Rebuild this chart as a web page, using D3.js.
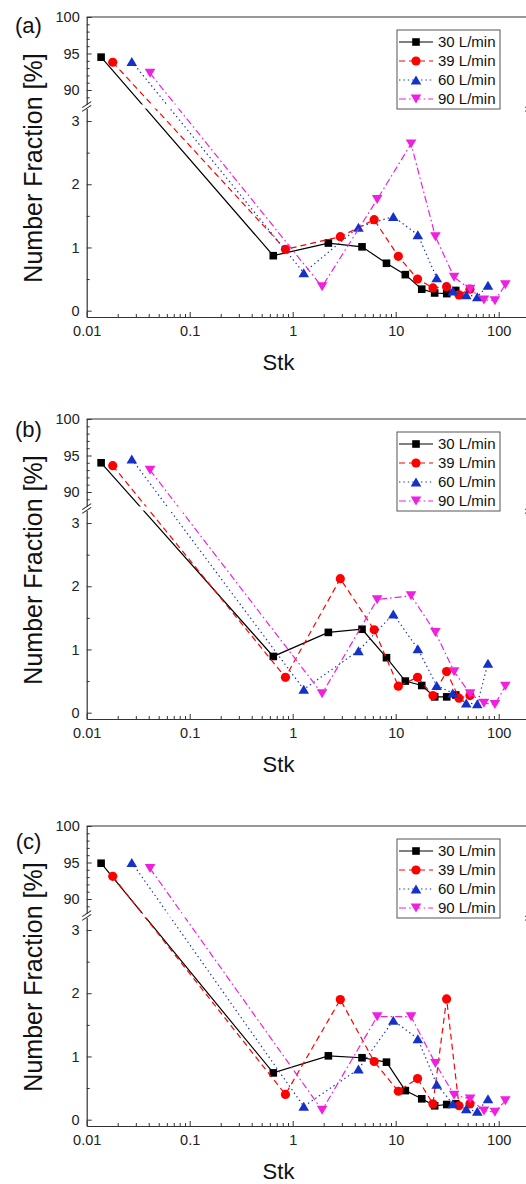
<!DOCTYPE html>
<html>
<head>
<meta charset="utf-8">
<script src="https://cdn.jsdelivr.net/npm/d3@7"></script>
<style>
  html, body { margin: 0; padding: 0; background: #fff; }
  svg { display: block; font-family: "Liberation Sans", Arial, sans-serif; }
</style>
</head>
<body>
<div id="chart"></div>
<script>
// Stk values for each flow rate (same in all three panels)
var stk30 = [0.0138, 0.648, 2.22, 4.71, 8.14, 12.4, 17.9, 23.9, 31.3, 38.3];
var stk39 = [0.0179, 0.85, 2.90, 6.18, 10.6, 16.3, 23.0, 31.2, 41.2, 52.6];
var stk60 = [0.0274, 1.28, 4.35, 9.48, 16.4, 25.0, 35.8, 48.4, 62.0, 78.7];
var stk90 = [0.0412, 1.93, 6.61, 14.1, 24.3, 36.9, 52.8, 71.9, 91.9, 116];

// Number fraction [%], panel (a)
var a30 = [94.5, 0.87, 1.07, 1.01, 0.75, 0.57, 0.34, 0.28, 0.27, 0.32];
var a39 = [93.8, 0.97, 1.17, 1.44, 0.86, 0.50, 0.36, 0.38, 0.25, 0.34];
var a60 = [93.9, 0.60, 1.32, 1.49, 1.20, 0.52, 0.31, 0.25, 0.22, 0.40];
var a90 = [92.3, 0.38, 1.76, 2.64, 1.17, 0.53, 0.34, 0.17, 0.16, 0.41];
// panel (b)
var b30 = [94.0, 0.89, 1.27, 1.32, 0.87, 0.50, 0.43, 0.25, 0.25, 0.28];
var b39 = [93.6, 0.56, 2.12, 1.31, 0.42, 0.56, 0.27, 0.65, 0.23, 0.27];
var b60 = [94.5, 0.37, 0.98, 1.56, 1.01, 0.43, 0.31, 0.15, 0.14, 0.78];
var b90 = [93.0, 0.30, 1.79, 1.85, 1.27, 0.65, 0.30, 0.15, 0.13, 0.42];
// panel (c)
var c30 = [94.9, 0.74, 1.01, 0.98, 0.91, 0.46, 0.33, 0.22, 0.24, 0.25];
var c39 = [93.1, 0.40, 1.90, 0.92, 0.45, 0.65, 0.25, 1.91, 0.22, 0.25];
var c60 = [95.0, 0.21, 0.80, 1.57, 1.28, 0.56, 0.25, 0.17, 0.13, 0.33];
var c90 = [94.2, 0.15, 1.63, 1.63, 0.89, 0.39, 0.33, 0.14, 0.12, 0.30];

var seriesNames = ['30 L/min', '39 L/min', '60 L/min', '90 L/min'];
var panelLabels = ['(a)', '(b)', '(c)'];

var xMajor = [0.01, 0.1, 1, 10, 100];
var yUpperMajor = [90, 95, 100];
var yLowerMajor = [0, 1, 2, 3];

// ============================================================================
// LAYOUT / STYLE
// ============================================================================

var W = 526, H = 1184;
var left = 86.7, right = 529.7, plotH = 300;
var gapTop = 87.6, gapBot = 91.4;
var FONT = '"Liberation Sans", Arial, sans-serif';

var panels = [
    { top: 17, labelY: 8, values: [a30, a39, a60, a90] },
    { top: 419, labelY: 10, values: [b30, b39, b60, b90] },
    { top: 826, labelY: 15, values: [c30, c39, c60, c90] }
];

var styles = [
    { stk: stk30, color: '#000000', dash: null, symbol: 'square' },
    { stk: stk39, color: '#ff0000', dash: '6,4', symbol: 'circle' },
    { stk: stk60, color: '#1432c8', dash: '1.4,3', symbol: 'triUp' },
    { stk: stk90, color: '#f020e0', dash: '7,3,1.6,3', symbol: 'triDown' }
];

function markerPath(type) {
    if (type === 'square') return 'M-3.8,-3.8H3.8V3.8H-3.8Z';
    if (type === 'circle') return 'M4.6,0A4.6,4.6 0 1,1 -4.6,0A4.6,4.6 0 1,1 4.6,0Z';
    if (type === 'triUp') return 'M0,-4.6L5.3,4.4H-5.3Z';
    return 'M0,4.6L5.3,-4.4H-5.3Z';
}

var x = d3.scaleLog().domain([0.01, 200]).range([left, right]);
var yUp = d3.scaleLinear().domain([88, 100]).range([gapTop, 0]);
var yLo = d3.scaleLinear().domain([-0.1, 3.2]).range([plotH, gapBot]);
function yv(v) { return v > 50 ? yUp(v) : yLo(v); }

var svg = d3.select('#chart').append('svg')
    .attr('width', W)
    .attr('height', H);

var defs = svg.append('defs');
var clip = defs.append('clipPath').attr('id', 'plotclip');
clip.append('rect').attr('x', left).attr('y', 0).attr('width', right - left).attr('height', gapTop);
clip.append('rect').attr('x', left).attr('y', gapBot).attr('width', right - left).attr('height', plotH - gapBot);

function xMinorTicks() {
    var out = [];
    [0.01, 0.1, 1, 10, 100].forEach(function(d) {
        for (var k = 2; k <= 9; k++) if (d * k < 200) out.push(d * k);
    });
    return out;
}

function styleAxis(g) {
    g.selectAll('path.domain').attr('stroke', '#333').attr('stroke-width', 1.2);
    g.selectAll('.tick line').attr('stroke', '#333').attr('stroke-width', 1);
    g.selectAll('.tick text')
        .attr('fill', '#222')
        .style('font-size', '14.5px')
        .style('font-family', FONT);
}

function drawPanel(p, idx) {
    var g = svg.append('g').attr('transform', 'translate(0,' + p.top + ')');

    // frame: top & right
    g.append('line').attr('x1', left).attr('x2', right).attr('y1', 0).attr('y2', 0)
        .attr('stroke', '#333').attr('stroke-width', 1.2);
    g.append('line').attr('x1', right).attr('x2', right).attr('y1', 0).attr('y2', gapTop)
        .attr('stroke', '#333').attr('stroke-width', 1.2);
    g.append('line').attr('x1', right).attr('x2', right).attr('y1', gapBot).attr('y2', plotH)
        .attr('stroke', '#333').attr('stroke-width', 1.2);

    // x axis
    var xa = g.append('g').attr('transform', 'translate(0,' + plotH + ')')
        .call(d3.axisBottom(x).tickValues(xMajor).tickSizeInner(-5).tickSizeOuter(0).tickPadding(9)
            .tickFormat(function(d) { return d < 1 ? String(d) : d3.format('d')(d); }));
    styleAxis(xa);
    var xm = g.append('g').attr('transform', 'translate(0,' + plotH + ')')
        .call(d3.axisBottom(x).tickValues(xMinorTicks()).tickSizeInner(-3).tickSizeOuter(0).tickFormat(''));
    xm.select('path.domain').remove();
    styleAxis(xm);

    // y axis, lower segment
    var yl = g.append('g').attr('transform', 'translate(' + left + ',0)')
        .call(d3.axisLeft(yLo).tickValues(yLowerMajor).tickSizeInner(-5).tickSizeOuter(0).tickPadding(7)
            .tickFormat(d3.format('d')));
    styleAxis(yl);
    var ylm = g.append('g').attr('transform', 'translate(' + left + ',0)')
        .call(d3.axisLeft(yLo).tickValues([0.5, 1.5, 2.5]).tickSizeInner(-3).tickSizeOuter(0).tickFormat(''));
    ylm.select('path.domain').remove();
    styleAxis(ylm);

    // y axis, upper segment
    var yu = g.append('g').attr('transform', 'translate(' + left + ',0)')
        .call(d3.axisLeft(yUp).tickValues(yUpperMajor).tickSizeInner(-5).tickSizeOuter(0).tickPadding(7)
            .tickFormat(d3.format('d')));
    styleAxis(yu);
    var yum = g.append('g').attr('transform', 'translate(' + left + ',0)')
        .call(d3.axisLeft(yUp).tickValues([89, 91, 92, 93, 94, 96, 97, 98, 99]).tickSizeInner(-3).tickSizeOuter(0).tickFormat(''));
    yum.select('path.domain').remove();
    styleAxis(yum);

    // axis break marks
    [left, right].forEach(function(ax) {
        [gapTop, gapBot].forEach(function(yy) {
            g.append('line')
                .attr('x1', ax - 4.5).attr('y1', yy + 3)
                .attr('x2', ax + 4.5).attr('y2', yy - 3)
                .attr('stroke', '#333').attr('stroke-width', 1.1);
        });
    });

    // data
    var line = d3.line()
        .x(function(d) { return x(d[0]); })
        .y(function(d) { return yv(d[1]); });

    styles.forEach(function(s, i) {
        var pts = s.stk.map(function(v, j) { return [v, p.values[i][j]]; });
        g.append('path')
            .datum(pts)
            .attr('d', line)
            .attr('fill', 'none')
            .attr('stroke', s.color)
            .attr('stroke-width', 1.2)
            .attr('stroke-dasharray', s.dash)
            .attr('clip-path', 'url(#plotclip)');
        g.selectAll('path.m' + i)
            .data(pts)
            .join('path')
            .attr('class', 'm' + i)
            .attr('d', markerPath(s.symbol))
            .attr('transform', function(d) { return 'translate(' + x(d[0]) + ',' + yv(d[1]) + ')'; })
            .attr('fill', s.color);
    });

    // legend
    var lg = g.append('g').attr('transform', 'translate(397,13)');
    lg.append('rect').attr('x', 0).attr('y', 0).attr('width', 103).attr('height', 79)
        .attr('fill', '#fff').attr('stroke', '#555').attr('stroke-width', 1);
    styles.forEach(function(s, i) {
        var yy = 12 + i * 19;
        lg.append('line').attr('x1', 2).attr('x2', 36).attr('y1', yy).attr('y2', yy)
            .attr('stroke', s.color).attr('stroke-width', 1.2).attr('stroke-dasharray', s.dash);
        lg.append('path').attr('d', markerPath(s.symbol))
            .attr('transform', 'translate(19,' + yy + ')')
            .attr('fill', s.color);
        lg.append('text').attr('x', 41).attr('y', yy).attr('dy', '0.35em')
            .style('font-size', '15px').style('font-family', FONT).attr('fill', '#111')
            .text(seriesNames[i]);
    });

    // labels
    g.append('text').attr('x', 28.5).attr('y', p.labelY).attr('dy', '0.35em')
        .attr('text-anchor', 'middle')
        .style('font-size', '22px').style('font-family', FONT).attr('fill', '#111')
        .text(panelLabels[idx]);
    g.append('text')
        .attr('transform', 'translate(33,151) rotate(-90)')
        .attr('text-anchor', 'middle').attr('dy', '0.35em')
        .style('font-size', '25px').style('font-family', FONT).attr('fill', '#111')
        .text('Number Fraction [%]');
    g.append('text').attr('x', 278.5).attr('y', 345).attr('dy', '0.35em')
        .attr('text-anchor', 'middle')
        .style('font-size', '22px').style('font-family', FONT).attr('fill', '#111')
        .text('Stk');
}

panels.forEach(drawPanel);
</script>
</body>
</html>
